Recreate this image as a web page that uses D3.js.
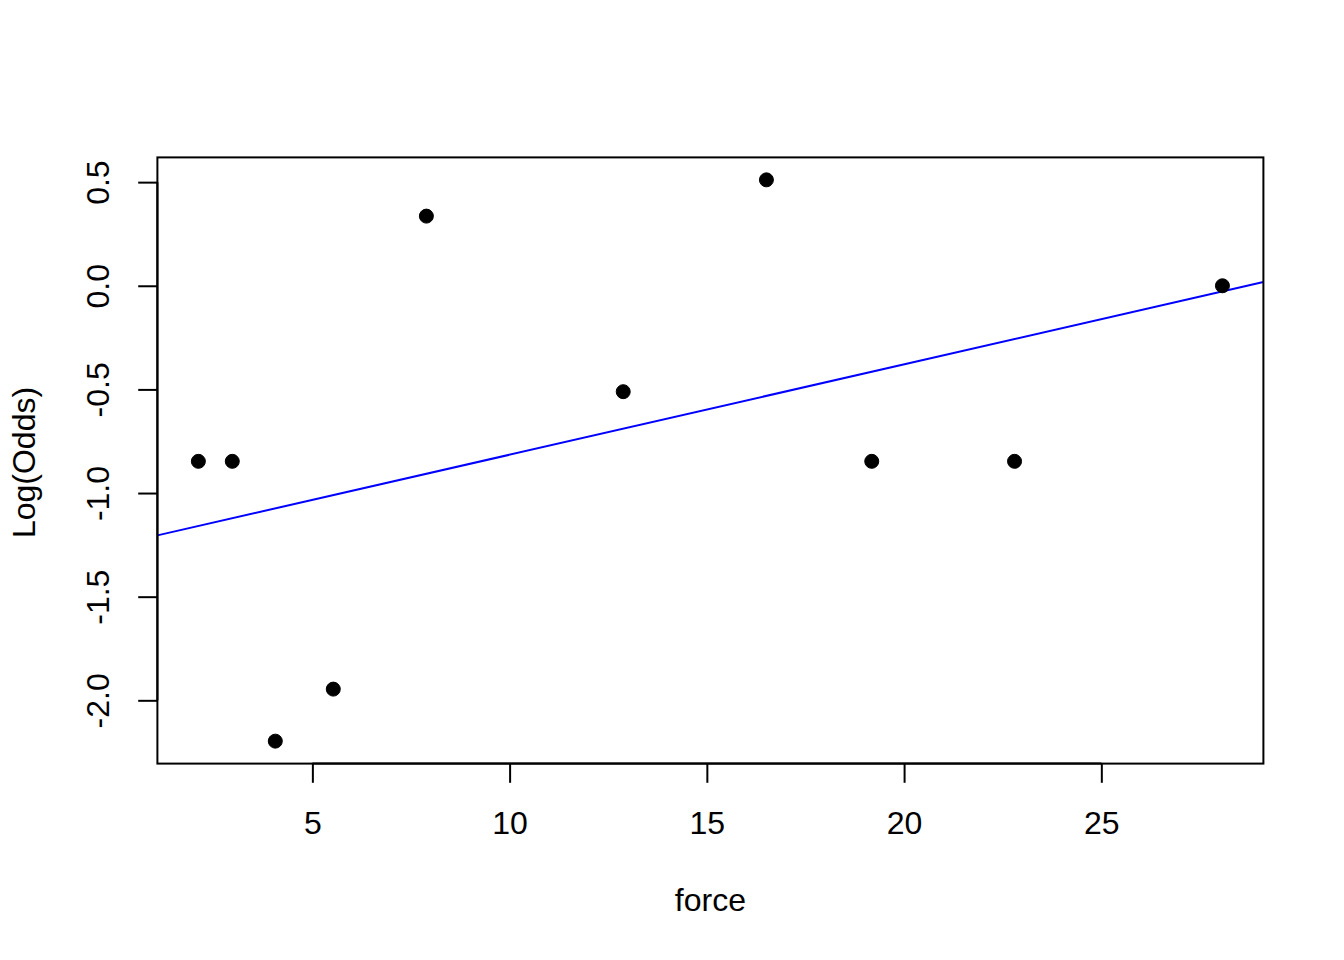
<!DOCTYPE html>
<html><head><meta charset="utf-8">
<script src="https://cdn.jsdelivr.net/npm/d3@7"></script>
<style>body{margin:0;background:#fff}svg{display:block}text{font-family:"Liberation Sans",Arial,sans-serif;fill:#000}</style>
</head><body>
<script>
const force = [2.11, 2.97, 4.06, 5.53, 7.89, 12.88, 16.51, 19.18, 22.80, 28.07];
const logOdds = [-0.847, -0.847, -2.197, -1.946, 0.336, -0.511, 0.511, -0.847, -0.847, 0.0];
const xTicks = [5, 10, 15, 20, 25];
const yTicks = [0.5, 0.0, -0.5, -1.0, -1.5, -2.0];
const fitCoef = [-1.251, 0.0436]; // intercept, slope
const xLabel = "force", yLabel = "Log(Odds)";

const W = 1344, H = 960;
const L = 157.4, R = 1263.4, T = 157.4, B = 763.6;
const svg = d3.select("body").append("svg").attr("width", W).attr("height", H);

function ext(a){const lo=d3.min(a),hi=d3.max(a),d=(hi-lo)*0.04;return [lo-d,hi+d];}
const x = d3.scaleLinear().domain(ext(force)).range([L, R]);
const y = d3.scaleLinear().domain(ext(logOdds)).range([B, T]);

// regression line clipped to plot box
svg.append("clipPath").attr("id","clip").append("rect").attr("x",L).attr("y",T).attr("width",R-L).attr("height",B-T);
const xd = x.domain();
svg.append("line").attr("clip-path","url(#clip)")
  .attr("x1", x(xd[0])).attr("y1", y(fitCoef[0]+fitCoef[1]*xd[0]))
  .attr("x2", x(xd[1])).attr("y2", y(fitCoef[0]+fitCoef[1]*xd[1]))
  .attr("stroke","#0000ff").attr("stroke-width",2);

svg.selectAll("circle.pt").data(force).enter().append("circle")
  .attr("cx",(d)=>x(d)).attr("cy",(d,i)=>y(logOdds[i])).attr("r",7)
  .attr("fill","#000").attr("stroke","#000").attr("stroke-width",1);

svg.append("rect").attr("x",L).attr("y",T).attr("width",R-L).attr("height",B-T)
  .attr("fill","none").attr("stroke","#000").attr("stroke-width",2);

// x axis
const xa = svg.append("g").attr("transform",`translate(0,${B})`)
  .call(d3.axisBottom(x).tickValues(xTicks).tickSize(19.2).tickPadding(0).tickFormat(d3.format("d")));
xa.select(".domain").attr("d",`M${x(xTicks[0])},0H${x(xTicks[xTicks.length-1])}`).attr("stroke-width",2);
xa.selectAll(".tick line").attr("stroke-width",2);
xa.selectAll(".tick text").attr("y",70.5).attr("dy",null).attr("font-size",32).attr("font-family","Liberation Sans");

// y axis
const ya = svg.append("g").attr("transform",`translate(${L},0)`)
  .call(d3.axisLeft(y).tickValues(yTicks).tickSize(19.2).tickFormat(d3.format(".1f")));
ya.select(".domain").attr("d",`M0,${y(yTicks[yTicks.length-1])}V${y(yTicks[0])}`).attr("stroke-width",2);
ya.selectAll(".tick line").attr("stroke-width",2);
ya.selectAll(".tick text").attr("x",null).attr("dy",null).attr("text-anchor","middle")
  .attr("transform","translate(-48,0) rotate(-90)").attr("font-size",32).attr("font-family","Liberation Sans")
  .text(d=>d3.format(".1f")(d).replace("−","-"));

svg.append("text").attr("x",(L+R)/2).attr("y",911).attr("text-anchor","middle").attr("font-size",32).text(xLabel);
svg.append("text").attr("transform",`translate(34.5,${(T+B)/2 + 2}) rotate(-90)`).attr("text-anchor","middle").attr("font-size",32).text(yLabel);
</script>
</body></html>
